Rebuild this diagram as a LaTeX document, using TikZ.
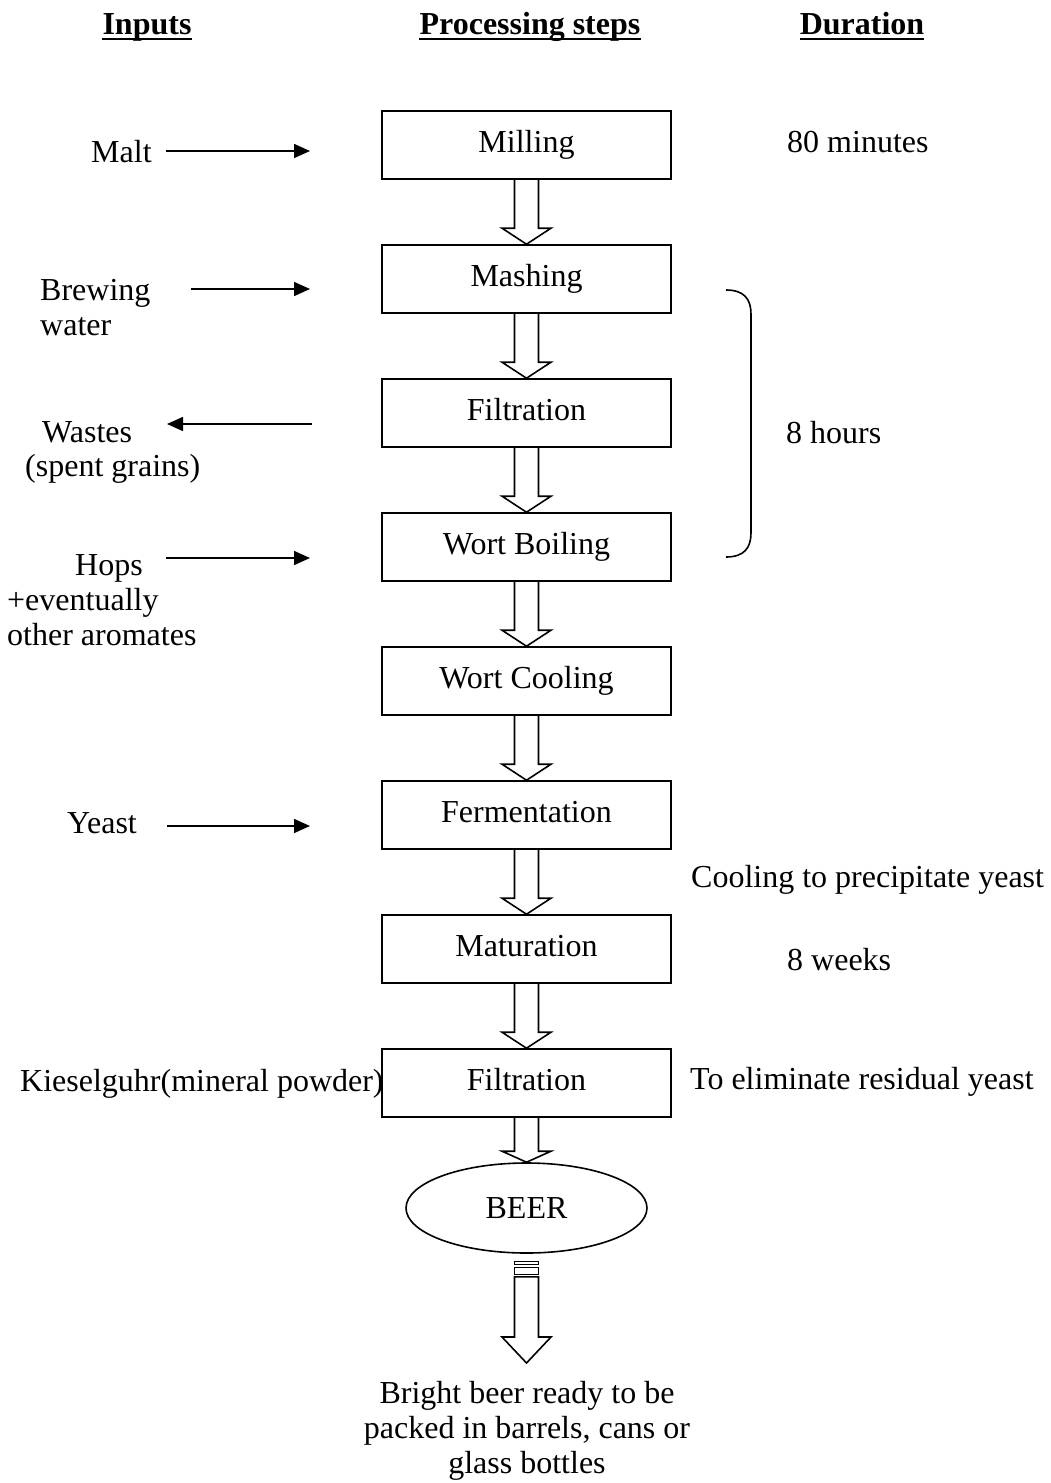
\documentclass[tikz,border=0pt]{standalone}
\usepackage{fontspec}
\setmainfont{Liberation Serif}
\usetikzlibrary{arrows.meta,shapes.geometric,calc}
\newcommand\blkarrow[3]{\draw[blk] let \p1=(#1), \p2=(#2) in (\x1-12pt,\y1) -- (\x1-12pt,\y2+#3) -- (\x1-24.5pt,\y2+#3) -- (\x2,\y2) -- (\x1+24.5pt,\y2+#3) -- (\x1+12pt,\y2+#3) -- (\x1+12pt,\y1);}
\begin{document}
\begin{tikzpicture}[x=1pt,y=-1pt,
  every node/.style={font=\fontsize{32}{35}\selectfont, inner sep=0pt},
  stepbox/.style={draw, line width=1.6pt, minimum width=289pt, minimum height=68pt, text height=22pt, text depth=7pt},
  lbl/.style={anchor=base west},
  hdr/.style={anchor=base, font=\fontsize{32}{35}\selectfont\bfseries},
  inarrow/.style={line width=1.6pt, -{Triangle[length=16pt,width=14pt]}},
  blk/.style={line width=1.6pt, line join=miter},
  uline/.style={line width=2.5pt},
]
\useasboundingbox (0,0) rectangle (1051,1483);
% headers
\node[hdr] (h1) at (147,34) {Inputs};
\node[hdr] (h2) at (530,34) {Processing steps};
\node[hdr] (h3) at (862,34) {Duration};
\foreach \h in {h1,h2,h3}{\draw[uline] ([yshift=-5pt]\h.base west) -- ([yshift=-5pt]\h.base east);}
% steps
\node[stepbox] (s1) at (526.5,145) {Milling};
\node[stepbox] (s2) at (526.5,279) {Mashing};
\node[stepbox] (s3) at (526.5,413) {Filtration};
\node[stepbox] (s4) at (526.5,547) {Wort Boiling};
\node[stepbox] (s5) at (526.5,681) {Wort Cooling};
\node[stepbox] (s6) at (526.5,815) {Fermentation};
\node[stepbox] (s7) at (526.5,949) {Maturation};
\node[stepbox] (s8) at (526.5,1083) {Filtration};
\node[draw, ellipse, line width=1.6pt, minimum width=241pt, minimum height=90pt] (beer) at (526.5,1208) {BEER};
% block arrows
\blkarrow{s1.south}{s2.north}{16pt}
\blkarrow{s2.south}{s3.north}{16pt}
\blkarrow{s3.south}{s4.north}{16pt}
\blkarrow{s4.south}{s5.north}{16pt}
\blkarrow{s5.south}{s6.north}{16pt}
\blkarrow{s6.south}{s7.north}{16pt}
\blkarrow{s7.south}{s8.north}{16pt}
\blkarrow{s8.south}{beer.north}{11pt}
% output arrow
\coordinate (outtip) at (526.5,1363);
\draw[line width=1.2pt] let \p1=(beer.south) in (\x1-12pt,\y1-8pt) rectangle (\x1+12pt,\y1-11pt);
\draw[line width=1.2pt] let \p1=(beer.south) in (\x1-12pt,\y1-14pt) rectangle (\x1+12pt,\y1-21pt);
\draw[blk] let \p1=(beer.south), \p2=(outtip) in (\x1-12pt,\y1-23pt) -- (\x1-12pt,\y2+26pt) -- (\x1-24.5pt,\y2+26pt) -- (\x2,\y2) -- (\x1+24.5pt,\y2+26pt) -- (\x1+12pt,\y2+26pt) -- (\x1+12pt,\y1-23pt) -- cycle;
\node[anchor=base] (o1) at (527,1403) {Bright beer ready to be};
\node[anchor=base] (o2) at (527,1438) {packed in barrels, cans or};
\node[anchor=base] (o3) at (527,1473) {glass bottles};
% inputs
\node[lbl] (malt) at (91,162) {Malt};
\coordinate (maltA) at (166,151); \coordinate (maltB) at (310,151);
\draw[inarrow] (maltA) -- (maltB);
\node[lbl] (brew1) at (40,300) {Brewing};
\node[lbl] (brew2) at (40,335) {water};
\coordinate (brewA) at (191,289); \coordinate (brewB) at (310,289);
\draw[inarrow] (brewA) -- (brewB);
\node[lbl] (waste1) at (42,442) {Wastes};
\node[lbl] (waste2) at (25,476) {(spent grains)};
\coordinate (wasteA) at (312,424); \coordinate (wasteB) at (167,424);
\draw[inarrow] (wasteA) -- (wasteB);
\node[lbl] (hops1) at (75,575) {Hops};
\node[lbl] (hops2) at (7,610) {+eventually};
\node[lbl] (hops3) at (7,645) {other aromates};
\coordinate (hopsA) at (166,558); \coordinate (hopsB) at (310,558);
\draw[inarrow] (hopsA) -- (hopsB);
\node[lbl] (yeast) at (67,833) {Yeast};
\coordinate (yeastA) at (167,826); \coordinate (yeastB) at (310,826);
\draw[inarrow] (yeastA) -- (yeastB);
\node[lbl] (kiesel) at (20,1091) {Kieselguhr(mineral powder)};
% durations
\node[lbl] (d1) at (787,152) {80 minutes};
\node[lbl] (d2) at (786,443) {8 hours};
\node[lbl] (d3) at (691,887) {Cooling to precipitate yeast};
\node[lbl] (d4) at (787,970) {8 weeks};
\node[lbl] (d5) at (690,1089) {To eliminate residual yeast};
% bracket
\draw[line width=1.6pt] (726,290) .. controls (744,290) and (751,299) .. (751,314) -- (751,533) .. controls (751,548) and (744,557) .. (726,557);
\end{tikzpicture}
\end{document}
